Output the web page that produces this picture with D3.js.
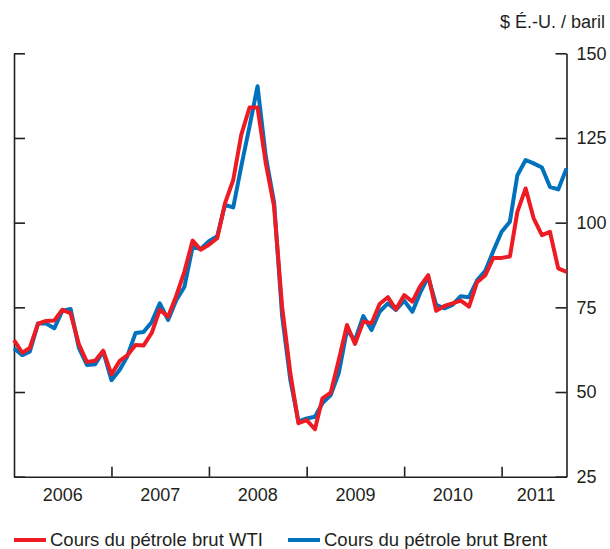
<!DOCTYPE html>
<html>
<head>
<meta charset="utf-8">
<script src="https://cdn.jsdelivr.net/npm/d3@7"></script>
<style>
  body { margin: 0; background: #fff; }
  svg text { font-family: "Liberation Sans", Arial, sans-serif; fill: #231f20; }
</style>
</head>
<body>
<svg id="chart" width="610" height="549"></svg>
<script>

// monthly values, Jan 2006 .. Sep 2011
var wti = [
  65.3, 61.6, 63.0, 70.2, 71.0, 71.1, 74.3, 73.2, 64.1, 58.9, 59.2, 62.2,
  55.2, 59.2, 60.8, 63.9, 63.7, 67.5, 74.3, 72.2, 78.5, 85.5, 94.7, 92.0,
  93.5, 95.4, 105.7, 112.6, 125.9, 134.0, 134.0, 117.5, 104.7, 75.2, 55.5, 40.8,
  41.7, 39.0, 48.1, 49.8, 59.4, 69.8, 64.2, 70.8, 70.3, 76.0, 78.0, 74.4,
  78.6, 76.7, 81.1, 84.5, 74.0, 75.4, 76.2, 77.0, 75.2, 82.4, 84.5, 89.6,
  89.6, 90.0, 103.2, 110.1, 101.3, 96.3, 97.3, 86.5, 85.5
];
var brent = [
  62.9, 60.9, 61.9, 70.2, 70.2, 68.8, 74.0, 74.5, 63.0, 58.0, 58.2, 62.0,
  53.5, 56.6, 60.5, 67.4, 67.7, 70.7, 76.2, 71.3, 77.2, 81.0, 92.9, 92.2,
  94.5, 96.0, 105.2, 104.5, 116.6, 128.4, 140.3, 119.5, 106.0, 72.5, 53.5, 41.3,
  42.2, 42.7, 46.7, 49.1, 55.5, 68.3, 65.3, 72.4, 68.3, 73.7, 76.2, 74.2,
  77.0, 73.7, 79.1, 84.0, 75.7, 74.7, 75.7, 78.3, 78.0, 83.0, 85.8, 91.6,
  97.3, 100.3, 114.0, 118.5, 117.5, 116.3, 110.6, 109.8, 116.0
];
var yearLabels = ["2006", "2007", "2008", "2009", "2010", "2011"];
var yTicks = [25, 50, 75, 100, 125, 150];
var legendNames = ["Cours du pétrole brut WTI", "Cours du pétrole brut Brent"];
var unitLabel = "$ É.-U. / baril";

var red = "#ed1c24", blue = "#0071bc", ink = "#231f20";

var months = wti.map(function(d, i){ return new Date(2006, i, 1); });

var svg = d3.select("#chart");
var plotLeft = 14, plotRight = 566.5, plotTop = 53.3, plotBottom = 476.7;

var x = d3.scaleTime()
  .domain([new Date(2006, 0, 1), new Date(2011, 8, 1)])
  .range([plotLeft, plotRight]);
var y = d3.scaleLinear().domain([25, 150]).range([plotBottom, plotTop]);

// axes
var gl = svg.append("g").attr("transform", "translate(" + plotLeft + ",0)")
  .call(d3.axisLeft(y).tickValues(yTicks).tickSize(-11).tickSizeOuter(0).tickFormat(""));
var gr = svg.append("g").attr("transform", "translate(" + plotRight + ",0)")
  .call(d3.axisRight(y).tickValues(yTicks).tickSize(-11).tickSizeOuter(0).tickPadding(10));
var yearStarts = yearLabels.slice(1).map(function(s){ return new Date(+s, 0, 1); });
var gb = svg.append("g").attr("transform", "translate(0," + plotBottom + ")")
  .call(d3.axisBottom(x).tickValues(yearStarts).tickSize(-10).tickSizeOuter(0).tickFormat(""));

[gl, gr, gb].forEach(function(g){
  g.selectAll("path, line").attr("stroke", ink).attr("stroke-width", 1.6);
  g.selectAll("text").attr("font-size", 18).attr("fill", ink)
    .attr("font-family", "Liberation Sans, Arial, sans-serif");
});

// year labels centred in each year span
yearLabels.forEach(function(s, i){
  var a = x(new Date(+s, 0, 1));
  var b = Math.min(x(new Date(+s + 1, 0, 1)), plotRight);
  svg.append("text").attr("x", (a + b) / 2 + (i == 5 ? 2 : 0)).attr("y", plotBottom + 24)
    .attr("text-anchor", "middle").attr("font-size", 18).text(s);
});

svg.append("text").attr("x", 605).attr("y", 28)
  .attr("text-anchor", "end").attr("font-size", 18).text(unitLabel);

// lines
var line = d3.line()
  .x(function(d, i){ return x(months[i]); })
  .y(function(d){ return y(d); });

svg.append("path").datum(brent).attr("d", line)
  .attr("fill", "none").attr("stroke", blue).attr("stroke-width", 4).attr("stroke-linejoin", "round");
svg.append("path").datum(wti).attr("d", line)
  .attr("fill", "none").attr("stroke", red).attr("stroke-width", 4).attr("stroke-linejoin", "round");

// legend
var legendX = [14, 288];
[red, blue].forEach(function(c, i){
  svg.append("line").attr("x1", legendX[i]).attr("x2", legendX[i] + 32)
    .attr("y1", 540).attr("y2", 540).attr("stroke", c).attr("stroke-width", 4);
  svg.append("text").attr("x", legendX[i] + 36).attr("y", 546)
    .attr("font-size", 18.5).text(legendNames[i]);
});

</script>
</body>
</html>
